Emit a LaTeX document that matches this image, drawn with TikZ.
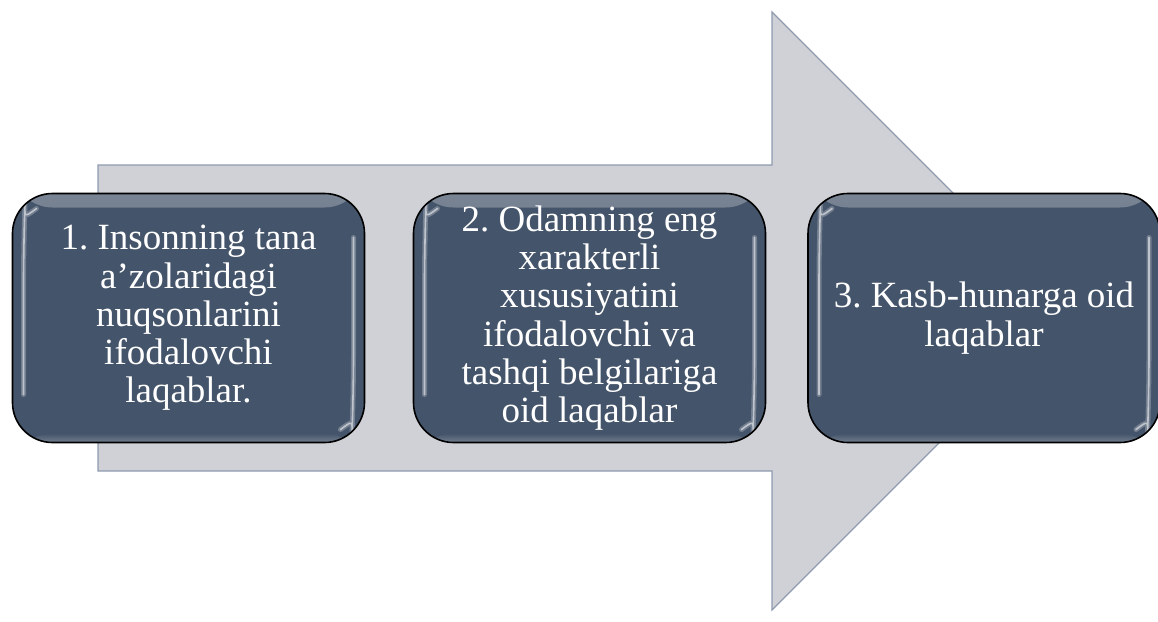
\documentclass[tikz,border=0pt]{standalone}
\usepackage{fontspec}
\setmainfont{Liberation Serif}
\frenchspacing
\definecolor{arrowfill}{HTML}{D0D1D6}
\definecolor{arrowline}{HTML}{8E9BAF}
\definecolor{boxfill}{HTML}{44546A}
\tikzset{
  bigarrow/.style={fill=arrowfill, draw=arrowline, line width=1.2pt, line join=miter},
  glosswide/.style={draw=white, draw opacity=0.25, line width=5pt, line cap=round},
  glosscore/.style={draw=white, draw opacity=0.55, line width=1.6pt, line cap=round},
  stepbox/.style={
    draw=black, line width=1.6pt, fill=boxfill, rounded corners=40pt,
    minimum width=352pt, minimum height=249pt, inner sep=0pt,
    text=white, text width=345pt, align=flush center,
    font=\fontsize{37}{38.3}\selectfont,
    path picture={
      \shade[top color=boxfill!72!white, bottom color=boxfill]
        (path picture bounding box.north west) rectangle
        ([yshift=-14pt]path picture bounding box.north east);
      \shade[top color=boxfill, bottom color=boxfill!75!white]
        ([yshift=9pt]path picture bounding box.south west) rectangle
        (path picture bounding box.south east);
      \foreach \gs in {glosswide,glosscore}{
      \draw[\gs]
        ([xshift=24pt,yshift=-15pt]path picture bounding box.north west)
        .. controls ([xshift=12pt,yshift=-24pt]path picture bounding box.north west)
        .. ([xshift=11pt,yshift=-50pt]path picture bounding box.north west)
        -- ([xshift=11pt,yshift=48pt]path picture bounding box.south west);
      \draw[\gs]
        ([xshift=-11pt,yshift=-44pt]path picture bounding box.north east)
        -- ([xshift=-11pt,yshift=48pt]path picture bounding box.south east)
        .. controls ([xshift=-12pt,yshift=22pt]path picture bounding box.south east)
        .. ([xshift=-24pt,yshift=13pt]path picture bounding box.south east);
      }
    }
  }
}
\begin{document}
\begin{tikzpicture}[x=1pt,y=-1pt]
\useasboundingbox (0,0) rectangle (1158,621);
\coordinate (a1) at (98,165);
\coordinate (a2) at (772,165);
\coordinate (a3) at (772,12);
\coordinate (a4) at (1071,311);
\coordinate (a5) at (772,610);
\coordinate (a6) at (772,471);
\coordinate (a7) at (98,471);
\path[bigarrow] (a1) -- (a2) -- (a3) -- (a4) -- (a5) -- (a6) -- (a7) -- cycle;

\node[stepbox] (b1) at (188.5,318) {1. Insonning tana\\ a’zolaridagi\\ nuqsonlarini\\ ifodalovchi\\ laqablar.};
\node[stepbox] (b2) at (589.5,318) {2. Odamning eng\\ xarakterli\\ xususiyatini\\ ifodalovchi va\\ tashqi belgilariga\\ oid laqablar};
\node[stepbox] (b3) at (984,318) {3. Kasb-hunarga oid\\ laqablar};
\end{tikzpicture}
\end{document}
